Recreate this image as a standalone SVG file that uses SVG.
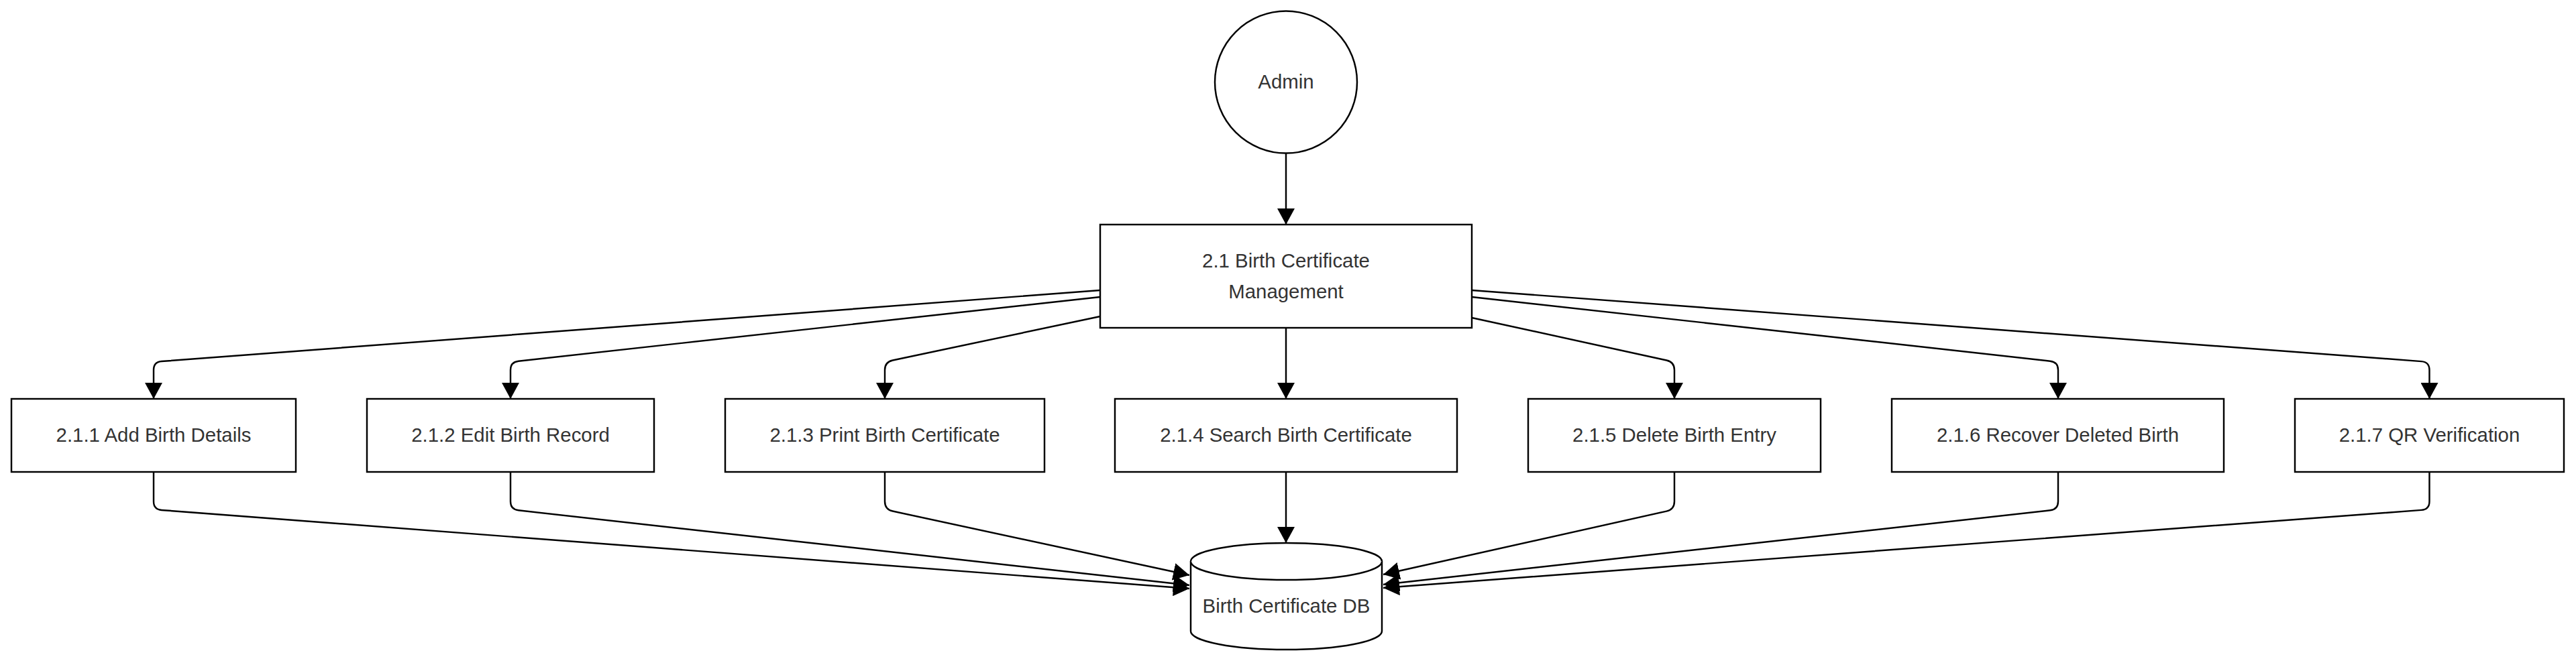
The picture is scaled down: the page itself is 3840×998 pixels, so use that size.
<svg xmlns="http://www.w3.org/2000/svg" width="3840" height="998" viewBox="0 0 3840 998">
<style>
.shape{fill:#ffffff;stroke:#000000;stroke-width:2.45}
.lbl{font-family:"Liberation Sans",Arial,sans-serif;font-size:29.4px;fill:#333333;text-anchor:middle}
.edge{fill:none;stroke:#000000;stroke-width:2.45;marker-end:url(#arr)}
</style>
<defs>
<marker id="arr" markerUnits="userSpaceOnUse" markerWidth="24" markerHeight="26" viewBox="0 0 24 26" refX="24" refY="13" orient="auto">
<path d="M0,0 L24,13 L0,26 Z" fill="#000000"/>
</marker>
</defs>
<rect width="3840" height="998" fill="#ffffff"/>
<g id="connectors">
<path class="edge" d="M1917,229 L1917,335"/>
<path class="edge" d="M1640,433 L240.97,539.09 Q229,540 229,552 L229,595"/>
<path class="edge" d="M1640,443 L772.93,538.68 Q761,540 761,552 L761,595"/>
<path class="edge" d="M1640,472 L1330.74,537.51 Q1319,540 1319,552 L1319,595"/>
<path class="edge" d="M1917,489 L1917,595"/>
<path class="edge" d="M2194,474 L2484.28,537.44 Q2496,540 2496,552 L2496,595"/>
<path class="edge" d="M2194,443 L3056.07,538.68 Q3068,540 3068,552 L3068,595"/>
<path class="edge" d="M2194,433 L3609.53,539.1 Q3621.5,540 3621.5,552 L3621.5,595"/>
<path class="edge" d="M229,704 L229,748 Q229,760 240.97,760.91 L1773,878"/>
<path class="edge" d="M761,704 L761,748 Q761,760 772.93,761.33 L1773,873"/>
<path class="edge" d="M1319,704 L1319,748 Q1319,760 1330.73,762.53 L1773,858"/>
<path class="edge" d="M1917,704 L1917,810"/>
<path class="edge" d="M2496,704 L2496,748 Q2496,760 2484.29,762.62 L2062,857"/>
<path class="edge" d="M3068,704 L3068,748 Q3068,760 3056.07,761.33 L2062,872"/>
<path class="edge" d="M3621.5,704 L3621.5,748 Q3621.5,760 3609.53,760.9 L2062,877"/>
</g>
<g id="admin">
<circle class="shape" cx="1917" cy="122.5" r="106"/>
<text class="lbl" x="1917" y="132">Admin</text>
</g>
<g id="p2_1">
<rect class="shape" x="1640" y="335" width="554" height="154"/>
<text class="lbl" x="1917" y="399">2.1 Birth Certificate</text>
<text class="lbl" x="1917" y="445">Management</text>
</g>
<g id="p2_1_1">
<rect class="shape" x="17" y="595" width="424" height="109"/>
<text class="lbl" x="229" y="659">2.1.1 Add Birth Details</text>
</g>
<g id="p2_1_2">
<rect class="shape" x="547" y="595" width="428" height="109"/>
<text class="lbl" x="761" y="659">2.1.2 Edit Birth Record</text>
</g>
<g id="p2_1_3">
<rect class="shape" x="1081" y="595" width="476" height="109"/>
<text class="lbl" x="1319" y="659">2.1.3 Print Birth Certificate</text>
</g>
<g id="p2_1_4">
<rect class="shape" x="1662" y="595" width="510" height="109"/>
<text class="lbl" x="1917" y="659">2.1.4 Search Birth Certificate</text>
</g>
<g id="p2_1_5">
<rect class="shape" x="2278" y="595" width="436" height="109"/>
<text class="lbl" x="2496" y="659">2.1.5 Delete Birth Entry</text>
</g>
<g id="p2_1_6">
<rect class="shape" x="2820" y="595" width="495" height="109"/>
<text class="lbl" x="3067.5" y="659">2.1.6 Recover Deleted Birth</text>
</g>
<g id="p2_1_7">
<rect class="shape" x="3421" y="595" width="401" height="109"/>
<text class="lbl" x="3621.5" y="659">2.1.7 QR Verification</text>
</g>
<g id="db">
<path class="shape" d="M1775,837.5 A142.5,27.5 0 0 1 2060,837.5 L2060,941.5 A142.5,27.5 0 0 1 1775,941.5 Z"/>
<path class="shape" fill="none" d="M1775,837.5 A142.5,27.5 0 0 0 2060,837.5"/>
<text class="lbl" x="1917.5" y="914">Birth Certificate DB</text>
</g>
</svg>
